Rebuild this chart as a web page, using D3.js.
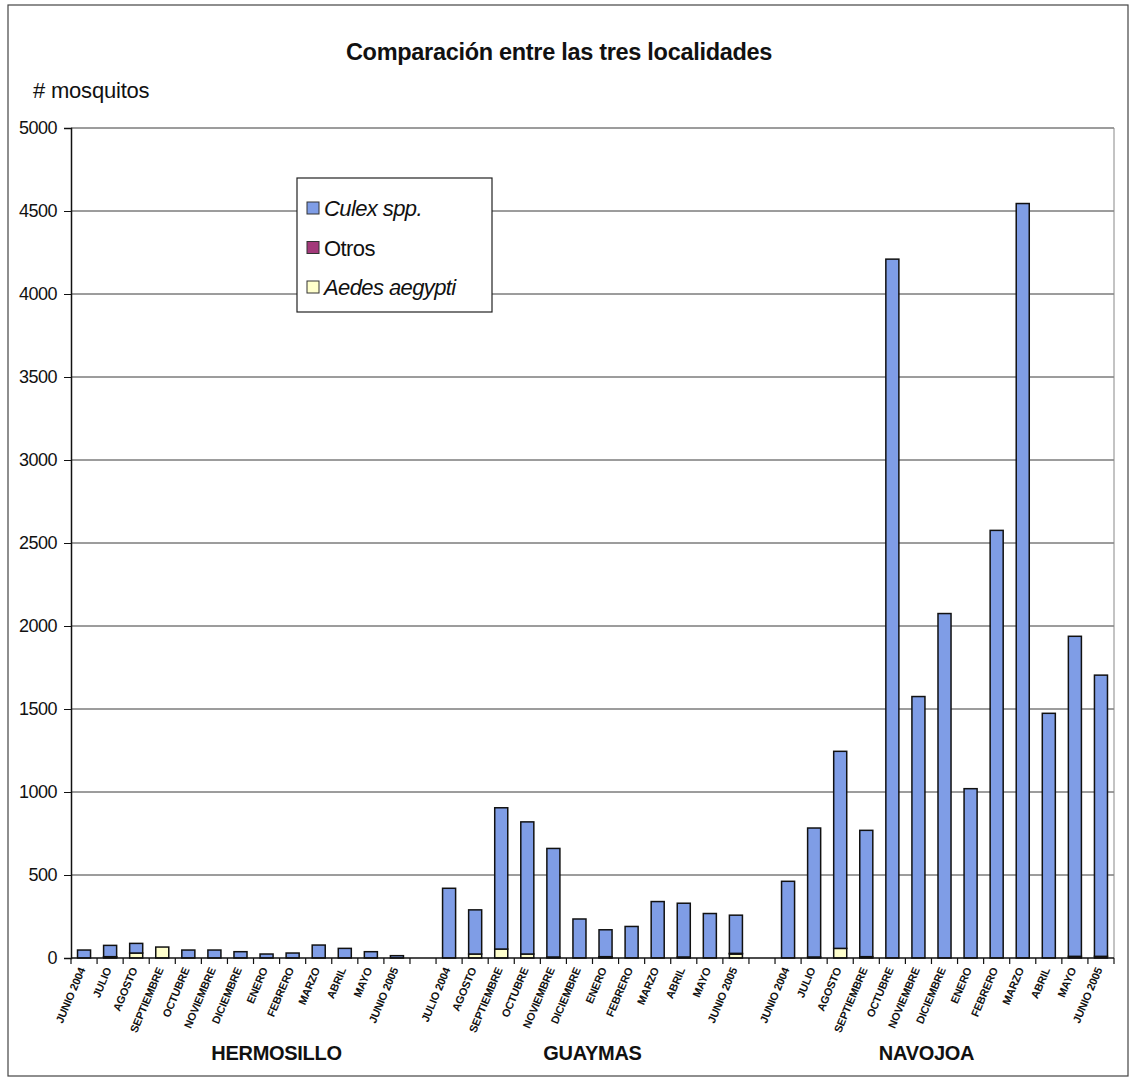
<!DOCTYPE html>
<html>
<head>
<meta charset="utf-8">
<script src="https://cdn.jsdelivr.net/npm/d3@7"></script>
<style>
    body { margin: 0; background: #fff; }
    svg text { font-family: "Liberation Sans", Arial, sans-serif; fill: #111; }
</style>
</head>
<body>
<div id="chart"></div>
<script>
// categories
var months13 = ["JUNIO 2004", "JULIO", "AGOSTO", "SEPTIEMBRE", "OCTUBRE", "NOVIEMBRE",
    "DICIEMBRE", "ENERO", "FEBRERO", "MARZO", "ABRIL", "MAYO", "JUNIO 2005"];
var months12 = ["JULIO 2004", "AGOSTO", "SEPTIEMBRE", "OCTUBRE", "NOVIEMBRE",
    "DICIEMBRE", "ENERO", "FEBRERO", "MARZO", "ABRIL", "MAYO", "JUNIO 2005"];
var localidades = ["HERMOSILLO", "GUAYMAS", "NAVOJOA"];

// series values
var hermosilloCulex = [48, 68, 58, 0, 48, 48, 38, 24, 30, 78, 58, 38, 14];
var hermosilloOtros = [0, 3, 0, 0, 0, 0, 0, 0, 0, 0, 0, 0, 0];
var hermosilloAedes = [0, 5, 30, 66, 0, 0, 0, 0, 0, 0, 0, 0, 0];

var guaymasCulex = [420, 266, 851, 796, 654, 235, 162, 190, 340, 324, 268, 230];
var guaymasOtros = [0, 0, 0, 0, 6, 0, 4, 0, 0, 6, 0, 4];
var guaymasAedes = [0, 24, 54, 24, 0, 0, 4, 0, 0, 0, 0, 24];

var navojoaCulex = [462, 777, 1187, 761, 4210, 1575, 2075, 1020, 2576, 4545, 1474, 1928, 1694];
var navojoaOtros = [0, 6, 0, 8, 0, 0, 0, 0, 0, 0, 0, 10, 10];
var navojoaAedes = [0, 0, 58, 0, 0, 0, 0, 0, 0, 0, 0, 0, 0];

var yTicks = [0, 500, 1000, 1500, 2000, 2500, 3000, 3500, 4000, 4500, 5000];

var series = ["Aedes aegypti", "Otros", "Culex spp."];
var seriesColor = { "Culex spp.": "#7f9de6", "Otros": "#a3397a", "Aedes aegypti": "#ffffcc" };
var seriesItalic = { "Culex spp.": true, "Otros": false, "Aedes aegypti": true };

// build rows: one per month per locality, blank slot between localities
var groups = [
    { name: localidades[0], months: months13, culex: hermosilloCulex, otros: hermosilloOtros, aedes: hermosilloAedes },
    { name: localidades[1], months: months12, culex: guaymasCulex, otros: guaymasOtros, aedes: guaymasAedes },
    { name: localidades[2], months: months13, culex: navojoaCulex, otros: navojoaOtros, aedes: navojoaAedes }
];

var rows = [];
var keys = [];
groups.forEach(function (g, gi) {
    g.keys = [];
    g.months.forEach(function (m, i) {
        var key = gi + "-" + i;
        rows.push({ key: key, label: m, "Aedes aegypti": g.aedes[i], "Otros": g.otros[i], "Culex spp.": g.culex[i] });
        keys.push(key);
        g.keys.push(key);
    });
    if (gi < groups.length - 1) {
        keys.push("gap-" + gi);
    }
});

var width = 1130, height = 1084;
var plotLeft = 71, plotRight = 1114, plotTop = 128, plotBottom = 958;

var svg = d3.select("#chart").append("svg")
    .attr("width", width)
    .attr("height", height);

// outer frame
svg.append("rect")
    .attr("x", 8).attr("y", 5)
    .attr("width", 1120).attr("height", 1071)
    .attr("fill", "none")
    .attr("stroke", "#444")
    .attr("stroke-width", 1.2);

var x = d3.scaleBand()
    .domain(keys)
    .range([plotLeft, plotRight])
    .paddingInner(0.5)
    .paddingOuter(0.25);

var y = d3.scaleLinear()
    .domain([0, 5000])
    .range([plotBottom, plotTop]);

// gridlines
svg.append("g")
    .selectAll("line")
    .data(yTicks.filter(d => d > 0))
    .enter().append("line")
    .attr("x1", plotLeft).attr("x2", plotRight)
    .attr("y1", d => y(d)).attr("y2", d => y(d))
    .attr("stroke", "#3a3a3a")
    .attr("stroke-width", 1);

// right edge of plot area
svg.append("line")
    .attr("x1", plotRight).attr("x2", plotRight)
    .attr("y1", plotTop).attr("y2", plotBottom)
    .attr("stroke", "#888")
    .attr("stroke-width", 1);

// stacked bars
var stack = d3.stack().keys(series);
var stacked = stack(rows);

svg.append("g")
    .selectAll("g")
    .data(stacked)
    .enter().append("g")
    .attr("fill", d => seriesColor[d.key])
    .selectAll("rect")
    .data(d => d.filter(s => s[1] - s[0] > 0))
    .enter().append("rect")
    .attr("x", d => x(d.data.key))
    .attr("width", x.bandwidth())
    .attr("y", d => y(d[1]))
    .attr("height", d => y(d[0]) - y(d[1]))
    .attr("stroke", "#111")
    .attr("stroke-width", 1.5);

// y axis
var yAxis = d3.axisLeft(y)
    .tickValues(yTicks)
    .tickSize(7)
    .tickFormat(d3.format("d"));

var yg = svg.append("g")
    .attr("transform", "translate(" + plotLeft + ",0)")
    .call(yAxis);
yg.select(".domain").attr("stroke", "#111").attr("stroke-width", 1.5);
yg.selectAll(".tick line").attr("stroke", "#111");
yg.selectAll(".tick text")
    .attr("font-size", 18)
    .attr("font-family", "Liberation Sans, Arial, sans-serif")
    .attr("letter-spacing", -0.5)
    .attr("x", -14)
    .attr("fill", "#111");

// x axis line and tick marks between categories
svg.append("line")
    .attr("x1", plotLeft).attr("x2", plotRight)
    .attr("y1", plotBottom).attr("y2", plotBottom)
    .attr("stroke", "#111")
    .attr("stroke-width", 1.5);

var step = x.step();
var boundaries = d3.range(keys.length + 1);
svg.append("g")
    .selectAll("line")
    .data(boundaries)
    .enter().append("line")
    .attr("x1", k => plotLeft + k * step)
    .attr("x2", k => plotLeft + k * step)
    .attr("y1", plotBottom)
    .attr("y2", plotBottom + 6)
    .attr("stroke", "#111")
    .attr("stroke-width", 1.2);

// month labels, rotated
svg.append("g")
    .selectAll("text")
    .data(rows)
    .enter().append("text")
    .attr("transform", d => "translate(" + (x(d.key) + x.bandwidth() / 2 - 2) + "," + (plotBottom + 10) + ") rotate(-67)")
    .attr("text-anchor", "end")
    .attr("dy", "0.35em")
    .attr("font-size", 11)
    .attr("font-weight", "bold")
    .attr("letter-spacing", -0.2)
    .text(d => d.label);

// locality labels under each group
var groupLabelShift = [36, 0, -18];
svg.append("g")
    .selectAll("text")
    .data(groups)
    .enter().append("text")
    .attr("x", function (g, i) {
        var first = x(g.keys[0]);
        var last = x(g.keys[g.keys.length - 1]) + x.bandwidth();
        return (first + last) / 2 + groupLabelShift[i];
    })
    .attr("y", 1060)
    .attr("text-anchor", "middle")
    .attr("font-size", 20)
    .attr("font-weight", "bold")
    .attr("letter-spacing", -0.3)
    .text(g => g.name);

// title and axis title
svg.append("text")
    .attr("x", 559)
    .attr("y", 60)
    .attr("text-anchor", "middle")
    .attr("font-size", 23.5)
    .attr("font-weight", "bold")
    .attr("letter-spacing", -0.3)
    .text("Comparación entre las tres localidades");

svg.append("text")
    .attr("x", 33)
    .attr("y", 98)
    .attr("font-size", 22)
    .attr("letter-spacing", -0.2)
    .text("# mosquitos");

// legend
var legend = svg.append("g").attr("transform", "translate(297,178)");
legend.append("rect")
    .attr("width", 195).attr("height", 134)
    .attr("fill", "#fff")
    .attr("stroke", "#222")
    .attr("stroke-width", 1.2);

var legendOrder = ["Culex spp.", "Otros", "Aedes aegypti"];
var ly = d3.scalePoint().domain(legendOrder).range([30, 109]);

var li = legend.selectAll("g.item")
    .data(legendOrder)
    .enter().append("g")
    .attr("class", "item")
    .attr("transform", d => "translate(0," + ly(d) + ")");

li.append("rect")
    .attr("x", 10).attr("y", -6)
    .attr("width", 12).attr("height", 12)
    .attr("fill", d => seriesColor[d])
    .attr("stroke", "#333")
    .attr("stroke-width", 1);

li.append("text")
    .attr("x", 27)
    .attr("y", 8)
    .attr("font-size", 22)
    .attr("letter-spacing", -0.6)
    .attr("font-style", d => seriesItalic[d] ? "italic" : "normal")
    .text(d => d);
</script>
</body>
</html>
